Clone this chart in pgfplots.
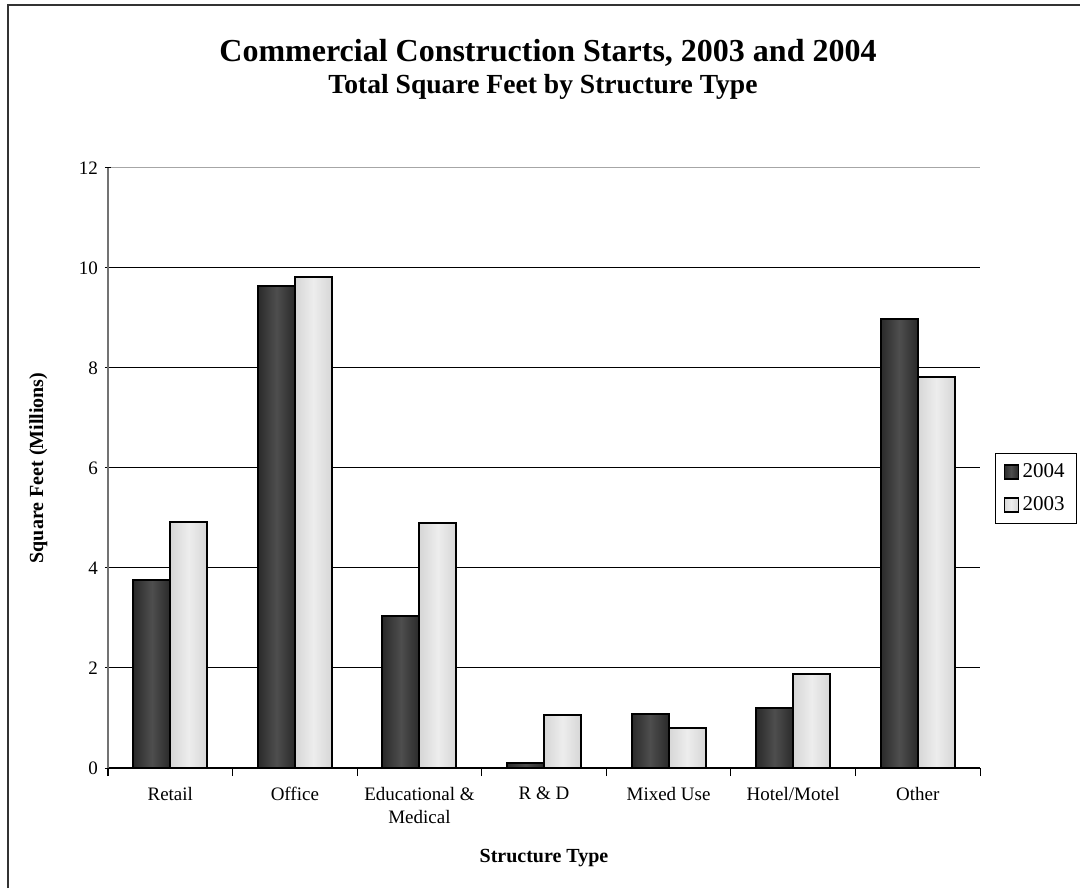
\documentclass[border=0pt]{standalone}
\usepackage{fontspec}
\setmainfont{Liberation Serif}
\usepackage{pgfplots}
\pgfplotsset{compat=1.18}
\definecolor{darkedge}{HTML}{2A2A2A}
\definecolor{darkmid}{HTML}{4E4E4E}
\definecolor{lightedge}{HTML}{D6D6D6}
\definecolor{lightmid}{HTML}{EDEDED}
\pgfplotsset{
  dk/.style={draw=black, line width=1pt, left color=darkedge, right color=darkedge, middle color=darkmid},
  lt/.style={draw=black, line width=1pt, left color=lightedge, right color=lightedge, middle color=lightmid},
  b04/.style={dk, bar shift=-9.25pt, forget plot},
  b03/.style={lt, bar shift=9.25pt, forget plot},
}
\begin{document}
\begin{tikzpicture}
\path[use as bounding box, fill=white] (0,0) rectangle (540pt,444pt);
\draw[line width=1.2pt, draw=black!80] (4pt,0) -- (4pt,441.6pt) -- (540pt,441.6pt);
\node[font=\fontsize{16}{19}\selectfont\bfseries, anchor=base] at (274pt,413pt) {Commercial Construction Starts, 2003 and 2004};
\node[font=\fontsize{13.8}{16}\selectfont\bfseries, anchor=base] at (271.5pt,397pt) {Total Square Feet by Structure Type};
\begin{axis}[
  at={(54pt,60pt)}, anchor=south west,
  width=436pt, height=300pt, scale only axis,
  xmin=-0.5, xmax=6.5, ymin=0, ymax=12,
  ytick={0,2,...,10},
  extra y ticks={12},
  extra y tick style={grid style={black!35, line width=0.5pt}},
  xtick={0,...,6},
  xticklabels={Retail, Office, {Educational \&\\Medical}, R \& D, Mixed Use, Hotel/Motel, Other},
  xticklabel style={align=center, font=\fontsize{9.5}{11.5}\selectfont, yshift=-3pt},
  yticklabel style={font=\fontsize{9.5}{11.5}\selectfont},
  /pgf/number format/assume math mode=true,
  major x tick style={draw=none},
  minor xtick={-0.5,0.5,...,6.5},
  minor tick length=4pt,
  major tick length=3pt,
  tick align=outside,
  tick style={black, line width=0.5pt},
  axis x line=bottom, axis y line=left,
  axis line style={-},
  x axis line style={black, line width=0.6pt},
  y axis line style={black!55, line width=0.9pt},
  ymajorgrids, grid style={black, line width=0.5pt},
  ybar=0pt, bar width=18.5pt,
  xlabel={Structure Type},
  ylabel={Square Feet (Millions)},
  label style={font=\fontsize{10}{12}\selectfont\bfseries},
  xlabel style={at={(axis description cs:0.5,-0.15)}, anchor=center},
  ylabel style={at={(axis description cs:-0.08,0.5)}, anchor=center},
  legend style={at={(axis description cs:1.0172,0.525)}, anchor=north west, draw=black, line width=0.5pt,
    font=\fontsize{10.5}{12}\selectfont, inner xsep=4pt, inner ysep=3pt, row sep=4pt},
  legend image code/.code={\draw[#1, line width=0.6pt] (0pt,-3.5pt) rectangle (7pt,3.5pt);},
  legend cell align=left,
]
\addlegendimage{dk}
\addlegendentry{2004}
\addlegendimage{lt}
\addlegendentry{2003}
% 2004
\addplot[b04] coordinates {(0,3.76)};
\addplot[b04] coordinates {(1,9.64)};
\addplot[b04] coordinates {(2,3.04)};
\addplot[b04] coordinates {(3,0.10)};
\addplot[b04] coordinates {(4,1.08)};
\addplot[b04] coordinates {(5,1.20)};
\addplot[b04] coordinates {(6,8.98)};
% 2003
\addplot[b03] coordinates {(0,4.92)};
\addplot[b03] coordinates {(1,9.82)};
\addplot[b03] coordinates {(2,4.90)};
\addplot[b03] coordinates {(3,1.06)};
\addplot[b03] coordinates {(4,0.80)};
\addplot[b03] coordinates {(5,1.88)};
\addplot[b03] coordinates {(6,7.82)};
\end{axis}
\end{tikzpicture}
\end{document}
